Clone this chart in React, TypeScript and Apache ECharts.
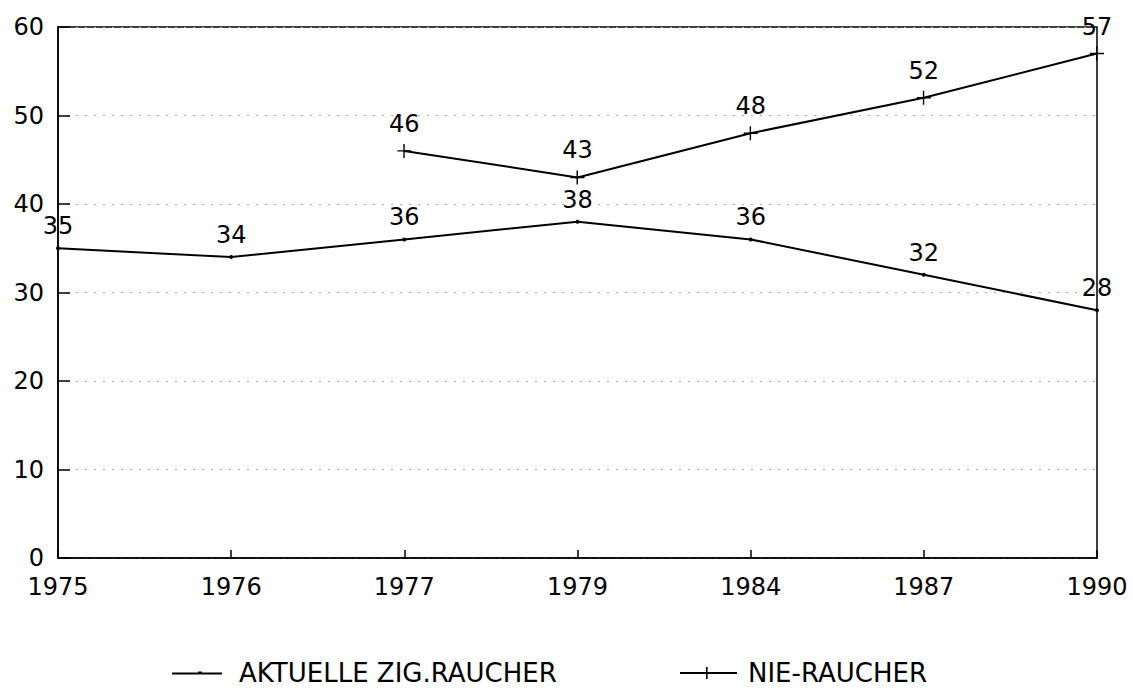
import React, { useEffect, useRef } from "react";
import * as echarts from "echarts";

const years = ["1975", "1976", "1977", "1979", "1984", "1987", "1990"];
const rauchers = [35, 34, 36, 38, 36, 32, 28];
const nieRaucher = [null, null, 46, 43, 48, 52, 57];
const seriesNames = ["AKTUELLE ZIG.RAUCHER", "NIE-RAUCHER"];

const FONT = "DejaVu Sans, Verdana, sans-serif";

export default function App() {
  const ref = useRef<HTMLDivElement>(null);
  useEffect(() => {
    if (!ref.current) return;
    const chart = echarts.init(ref.current, null, { renderer: "svg" });
    const legendText = { fontSize: 26, color: "#000", fontFamily: FONT };
    chart.setOption({
      animation: false,
      backgroundColor: "#ffffff",
      textStyle: { fontFamily: FONT, color: "#000" },
      grid: {
        left: 58,
        right: 36,
        top: 27,
        bottom: 133,
        show: true,
        borderColor: "#000",
        borderWidth: 1.5,
        backgroundColor: "transparent",
      },
      legend: [
        {
          top: 660,
          left: 172,
          padding: 0,
          itemWidth: 50,
          itemHeight: 28,
          textStyle: { ...legendText, padding: [0, 0, 0, 12] },
          data: [{ name: seriesNames[0], icon: "path://M0,13h50v2H0z M26,12h4v3h-4z" }],
        },
        {
          top: 660,
          left: 680,
          padding: 0,
          itemWidth: 57,
          itemHeight: 28,
          textStyle: { ...legendText, padding: [0, 0, 0, 6] },
          data: [{ name: seriesNames[1], icon: "path://M0,13h57v2H0z M26,8h1.6v12h-1.6z" }],
        },
      ],
      xAxis: {
        type: "category",
        data: years,
        boundaryGap: false,
        axisLine: { show: true, lineStyle: { color: "#000", width: 1.5 } },
        axisTick: { show: true, inside: true, length: 8, lineStyle: { color: "#000", width: 1.5 } },
        axisLabel: { fontSize: 24, color: "#000", margin: 17, fontFamily: FONT },
        splitLine: { show: false },
      },
      yAxis: {
        type: "value",
        min: 0,
        max: 60,
        interval: 10,
        axisLine: { show: true, lineStyle: { color: "#000", width: 1.5 } },
        axisTick: { show: true, inside: true, length: 12, lineStyle: { color: "#000", width: 1.5 } },
        axisLabel: { fontSize: 24, color: "#000", margin: 14, fontFamily: FONT },
        splitLine: { show: true, lineStyle: { color: "#aaa", width: 1, type: [2, 7] } },
      },
      series: [
        {
          name: seriesNames[0],
          type: "line",
          data: rauchers,
          symbol: "circle",
          symbolSize: 4,
          lineStyle: { color: "#000", width: 2 },
          itemStyle: { color: "#000" },
          label: { show: true, position: "top", distance: 8, fontSize: 24, color: "#000", fontFamily: FONT },
        },
        {
          name: seriesNames[1],
          type: "line",
          data: nieRaucher,
          symbol: "path://M6,0h1.4v14h-1.4z M0,6.3h14v1.4H0z",
          symbolSize: 14,
          lineStyle: { color: "#000", width: 2 },
          itemStyle: { color: "#000" },
          label: { show: true, position: "top", distance: 8, fontSize: 24, color: "#000", fontFamily: FONT },
        },
      ],
    });
    return () => chart.dispose();
  }, []);
  return (
    <div
      ref={ref}
      style={{ position: "fixed", left: 0, top: 0, width: 1133, height: 691, background: "#fff" }}
    />
  );
}
